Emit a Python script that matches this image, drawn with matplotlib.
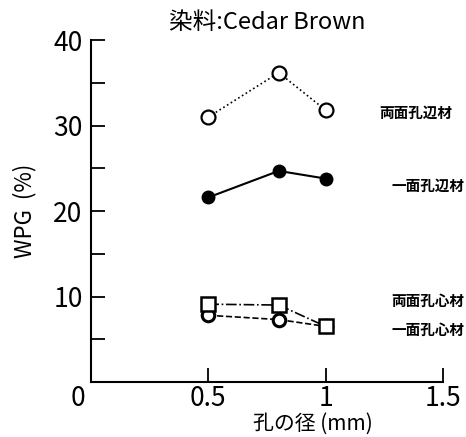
import numpy as np
import matplotlib.pyplot as plt
from matplotlib.transforms import ScaledTranslation

plt.rcParams['font.family'] = ['Noto Sans CJK JP', 'DejaVu Sans']

# hole diameter (mm)
diam = [0.5, 0.8, 1.0]
# WPG (%)
both_sap = [31.0, 36.2, 31.8]     # 両面孔辺材
one_sap = [21.6, 24.7, 23.8]      # 一面孔辺材
both_heart = [9.1, 9.0, 6.5]      # 両面孔心材
one_heart = [7.8, 7.3, 6.5]       # 一面孔心材

labels = ['両面孔辺材', '一面孔辺材', '両面孔心材', '一面孔心材']
label_y = [31.5, 22.9, 9.5, 6.1]
label_x = [1.23, 1.28, 1.28, 1.28]

fig = plt.figure(figsize=(4.66, 4.37), dpi=100)
ax = fig.add_axes([0.195, 0.126, 0.756, 0.782])

ax.plot(diam, both_sap, 'k:', lw=1.2, marker='o', ms=10, mfc='white', mec='k', mew=1.6)
ax.plot(diam, one_sap, 'k-', lw=1.5, marker='o', ms=9, mfc='k', mec='k')
ax.plot(diam, one_heart, 'k--', lw=1.2, marker='o', ms=9, mfc='white', mec='k', mew=2.2)
ax.plot(diam, both_heart, 'k-.', lw=1.2, marker='s', ms=10, mfc='white', mec='k', mew=1.8)

for lab, lx, ly in zip(labels, label_x, label_y):
    ax.text(lx, ly, lab, fontsize=10.5, fontweight='bold', va='center', ha='left', clip_on=False)

ax.set_xlim(0, 1.5)
ax.set_ylim(0, 40)
ax.set_xticks([0, 0.5, 1, 1.5])
ax.set_xticklabels(['0', '0.5', '1', '1.5'])
# the origin "0" is shared, so no separate y label there
ax.set_yticks([0, 10, 20, 30, 40])
ax.set_yticklabels(['', '10', '20', '30', '40'])
ax.set_yticks([5, 15, 25, 35], minor=True)
ax.tick_params(direction='in', length=10, width=1.3, labelsize=19, pad=6)
ax.tick_params(which='minor', direction='in', length=10, width=1.3)
ax.tick_params(axis='x', pad=2)
zero = ax.get_xticklabels()[0]
zero.set_transform(zero.get_transform() + ScaledTranslation(-0.13, 0, fig.dpi_scale_trans))
for s in ['top', 'right']:
    ax.spines[s].set_visible(False)
for s in ['left', 'bottom']:
    ax.spines[s].set_linewidth(1.5)

ax.set_title('染料:Cedar Brown', fontsize=17, pad=8)
ax.set_ylabel('WPG  (%)', fontsize=16, labelpad=12)
ax.set_xlabel('孔の径 (mm)', fontsize=15, labelpad=0)
ax.xaxis.set_label_coords(0.63, -0.09)

plt.savefig('out.png')
